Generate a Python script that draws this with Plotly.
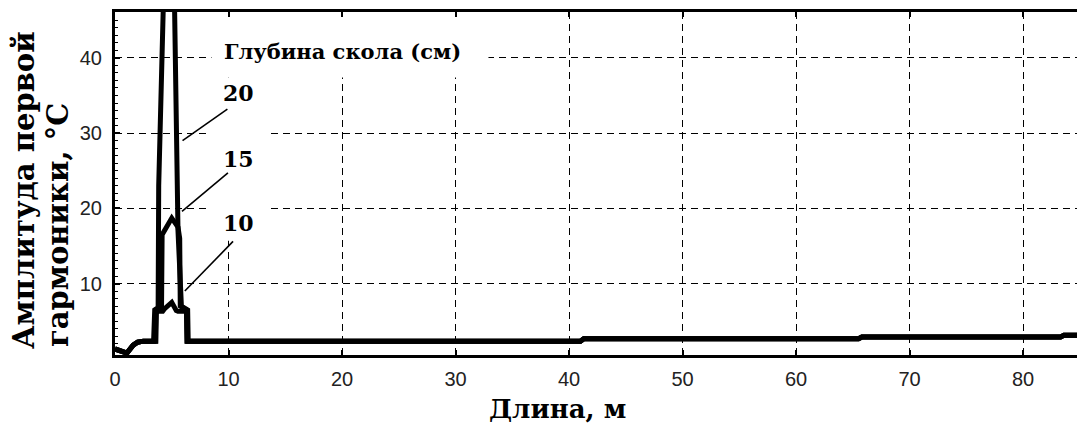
import plotly.graph_objects as go

# ---- data ----
# common low start and long tail of all curves
start_x = [0.0, 0.5, 1.05, 1.6, 2.0, 2.5, 3.0, 3.4]
start_y = [1.3, 1.0, 0.75, 1.8, 2.2, 2.34, 2.34, 2.34]
tail_x = [6.5, 20.0, 41.0, 41.3, 65.5, 65.8, 83.3, 83.6, 86.0]
tail_y = [2.34, 2.34, 2.34, 2.67, 2.67, 2.9, 2.9, 3.12, 3.12]

# peak zone for each chip depth
peak20_x = [3.5, 3.8, 3.85, 4.25, 5.25, 5.55, 5.85, 6.4, 6.45]
peak20_y = [6.5, 6.8, 23.0, 46.5, 46.5, 17.0, 7.0, 6.5, 2.34]
peak15_x = [3.55, 3.6, 4.1, 4.15, 4.4, 5.0, 5.55, 5.7, 5.75, 6.3, 6.35]
peak15_y = [2.34, 6.5, 7.0, 16.5, 17.1, 18.7, 17.5, 16.0, 7.0, 6.5, 2.34]
peak10_x = [3.6, 3.65, 4.2, 4.4, 5.0, 5.4, 5.55, 6.3, 6.35]
peak10_y = [2.34, 6.3, 6.3, 6.7, 7.5, 6.4, 6.3, 6.3, 2.34]

depth_labels = ["20", "15", "10"]
label_x = [10.85, 10.85, 10.9]
label_y = [35.3, 26.6, 18.1]
# leader lines: (x0, y0) near label -> (x1, y1) on curve
lead_x0 = [9.9, 9.95, 10.4]
lead_y0 = [33.2, 24.7, 15.6]
lead_x1 = [5.95, 5.9, 6.15]
lead_y1 = [29.0, 19.6, 9.0]

x_ticks = [0, 10, 20, 30, 40, 50, 60, 70, 80]
y_ticks = [10, 20, 30, 40]

series = [
    (peak20_x, peak20_y),
    (peak15_x, peak15_y),
    (peak10_x, peak10_y),
]

fig = go.Figure()
for px, py in series:
    fig.add_trace(go.Scatter(
        x=start_x + px + tail_x,
        y=start_y + py + tail_y,
        mode="lines",
        line=dict(color="black", width=5),
        showlegend=False,
        hoverinfo="skip",
        cliponaxis=True,
    ))

serif = "DejaVu Serif"
sans = "Liberation Sans"

# white patches behind the label texts (cover gridlines only)
fig.add_shape(type="rect", xref="x", yref="y", x0=8.5, x1=32.9, y0=37.4, y1=46.1,
              fillcolor="white", line=dict(width=0), layer="between")
fig.add_shape(type="rect", xref="x", yref="y", x0=8.4, x1=13.5, y0=15.7, y1=37.4,
              fillcolor="white", line=dict(width=0), layer="between")

for i in range(3):
    fig.add_shape(type="line", xref="x", yref="y",
                  x0=lead_x0[i], y0=lead_y0[i], x1=lead_x1[i], y1=lead_y1[i],
                  line=dict(color="black", width=1.6), layer="above")
    fig.add_annotation(x=label_x[i], y=label_y[i], xref="x", yref="y",
                       text="<b>" + depth_labels[i] + "</b>", showarrow=False,
                       xanchor="center", yanchor="middle",
                       font=dict(family=serif, size=22, color="black"))

fig.add_annotation(x=20.0, y=40.9, xref="x", yref="y",
                   text="<b>Глубина скола (см)</b>", showarrow=False,
                   xanchor="center", yanchor="middle",
                   font=dict(family=serif, size=21, color="black"))

# axis titles
fig.add_annotation(x=(557 - 115) / 962, y=(355 - 409) / 343, xref="paper", yref="paper",
                   text="<b>Длина, м</b>", showarrow=False,
                   xanchor="center", yanchor="middle",
                   font=dict(family=serif, size=26, color="black"))
fig.add_annotation(x=(24 - 115) / 962, y=(355 - 190) / 343, xref="paper", yref="paper",
                   text="<b>Амплитуда первой</b>", showarrow=False, textangle=-90,
                   xanchor="center", yanchor="middle",
                   font=dict(family=serif, size=29, color="black"))
fig.add_annotation(x=(58 - 115) / 962, y=(355 - 225) / 343, xref="paper", yref="paper",
                   text="<b>гармоники, °C</b>", showarrow=False, textangle=-90,
                   xanchor="center", yanchor="middle",
                   font=dict(family=serif, size=29, color="black"))

fig.update_xaxes(
    range=[0, 84.75], tickvals=x_ticks, ticktext=[str(v) for v in x_ticks],
    showline=True, linecolor="black", linewidth=3, mirror="ticks",
    ticks="inside", ticklen=5, tickwidth=1.5, tickcolor="black",
    showgrid=True, gridcolor="black", gridwidth=1.3, griddash="7px,5px",
    zeroline=False, ticklabelstandoff=4,
    tickfont=dict(family=sans, size=20, color="#222"),
)
fig.update_yaxes(
    range=[0.5, 46.1], tickvals=y_ticks, ticktext=[str(v) for v in y_ticks],
    showline=True, linecolor="black", linewidth=3,
    ticks="inside", ticklen=5, tickwidth=1.5, tickcolor="black",
    minor=dict(ticks="inside", ticklen=3, dtick=1, tick0=0, tickcolor="black", tickwidth=1),
    showgrid=True, gridcolor="black", gridwidth=1.3, griddash="7px,5px",
    zeroline=False, ticklabelstandoff=6,
    tickfont=dict(family=sans, size=20, color="#222"),
)

fig.update_layout(
    width=1077, height=428,
    margin=dict(l=115, r=0, t=12, b=73),
    paper_bgcolor="white", plot_bgcolor="white",
    showlegend=False,
)

fig.write_html("out.html")
